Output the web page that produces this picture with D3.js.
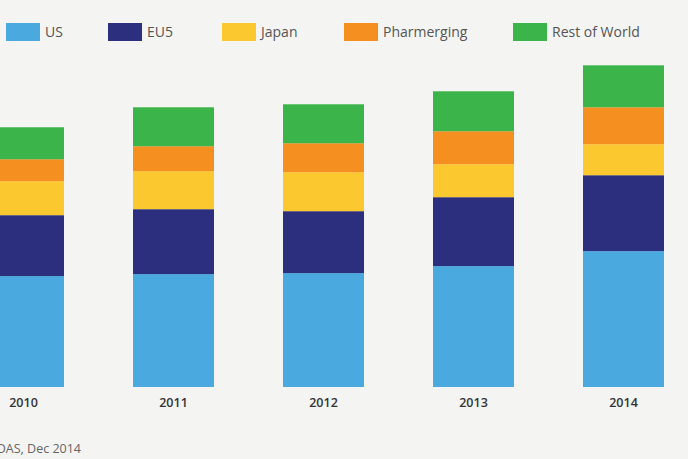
<!DOCTYPE html>
<html>
<head>
<meta charset="utf-8">
<script src="https://cdn.jsdelivr.net/npm/d3@7"></script>
<style>
  html, body { margin: 0; padding: 0; background: #f4f4f3; overflow: hidden; }
  svg { display: block; }
</style>
</head>
<body>
<div id="chart"></div>
<script>
// spending by region, $bn
const years = ["2010", "2011", "2012", "2013", "2014"];
const regions = ["US", "EU5", "Japan", "Pharmerging", "Rest of World"];
const us          = [333, 339, 342, 363, 408];
const eu5         = [183, 195, 186, 207, 228];
const japan       = [102, 114, 117, 99, 93];
const pharmerging = [66, 75, 87, 99, 111];
const restOfWorld = [96, 117, 117, 120, 126];
const sourceText = "Source: IMS MIDAS, Dec 2014";

const colors = ["#4aa9de", "#2b2f7e", "#fcc82f", "#f58f1f", "#3bb44a"];

const w = 688, h = 459;

// build rows for d3.stack
const series = [us, eu5, japan, pharmerging, restOfWorld];
const rows = years.map((y, i) => {
  let r = { year: y };
  regions.forEach((k, j) => r[k] = series[j][i]);
  return r;
});
const stacked = d3.stack().keys(regions)(rows);

const xScale = d3.scaleBand()
                 .domain(years)
                 .range([-17, 664])
                 .paddingInner(0.46)
                 .paddingOuter(0);
const yScale = d3.scaleLinear()
                 .domain([0, 1000])
                 .range([387, 54]);
const color = d3.scaleOrdinal().domain(regions).range(colors);

const svg = d3.select("#chart")
              .append("svg")
              .attr("width", w)
              .attr("height", h);

svg.append("rect")
   .attr("width", w)
   .attr("height", h)
   .attr("fill", "#f4f4f3");

// bars
svg.selectAll("g.layer")
   .data(stacked)
   .enter()
   .append("g")
   .attr("class", "layer")
   .attr("fill", d => color(d.key))
   .selectAll("rect")
   .data(d => d)
   .enter()
   .append("rect")
   .attr("x", d => xScale(d.data.year))
   .attr("y", d => yScale(d[1]))
   .attr("width", xScale.bandwidth())
   .attr("height", d => yScale(d[0]) - yScale(d[1]));

// year labels
const xAxis = d3.axisBottom(xScale).tickSize(0).tickPadding(11);
const gx = svg.append("g")
   .attr("transform", "translate(0,387)")
   .call(xAxis);
gx.select(".domain").remove();
gx.selectAll("text")
  .attr("fill", "#333")
  .style("font-family", "'Open Sans', sans-serif")
  .style("font-size", "12.5px")
  .style("font-weight", "600");

// legend
const legendX = [6, 108, 222, 344, 513];
const legend = svg.selectAll("g.legend")
   .data(regions)
   .enter()
   .append("g")
   .attr("class", "legend")
   .attr("transform", (d, i) => "translate(" + legendX[i] + ",23)");
legend.append("rect")
   .attr("width", 34)
   .attr("height", 18)
   .attr("fill", d => color(d));
legend.append("text")
   .attr("x", 39)
   .attr("y", 9)
   .attr("dy", "0.35em")
   .attr("fill", "#555")
   .style("font-family", "'Open Sans', sans-serif")
   .style("font-size", "14px")
   .text(d => d);

// source note (cut at the left edge, as in the picture)
svg.append("text")
   .attr("x", 81)
   .attr("y", 453)
   .attr("text-anchor", "end")
   .attr("fill", "#666")
   .style("font-family", "'Open Sans', sans-serif")
   .style("font-size", "12.5px")
   .text(sourceText);
</script>
</body>
</html>
